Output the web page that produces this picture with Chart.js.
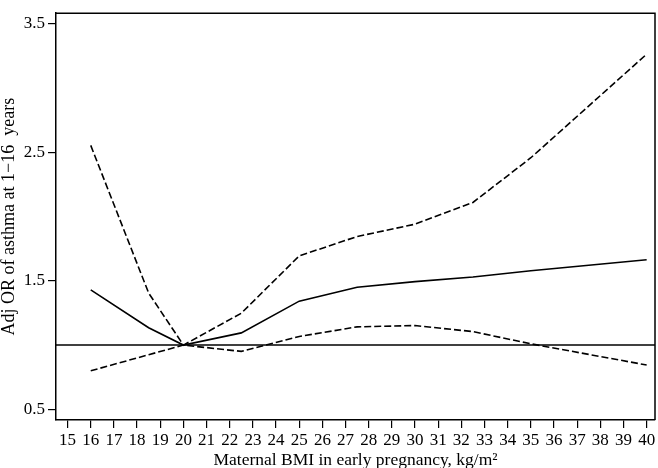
<!DOCTYPE html>
<html>
<head>
<meta charset="utf-8">
<script src="https://cdn.jsdelivr.net/npm/chart.js@4"></script>
<style>
  html, body { margin: 0; padding: 0; background: #fff; }
  #wrap { width: 658px; height: 468px; }
</style>
</head>
<body>
<div id="wrap"><canvas id="grafico" width="658" height="468"></canvas></div>
<script>
// dados
const bmi = [16, 18.5, 20, 22.5, 25, 27.5, 30, 32.5, 35, 40];
const orAjustado = [1.43, 1.135, 1.0, 1.095, 1.342, 1.45, 1.494, 1.53, 1.579, 1.664];
const icSuperior = [2.554, 1.405, 1.0, 1.248, 1.694, 1.845, 1.941, 2.11, 2.458, 3.264];
const icInferior = [0.80, 0.925, 1.0, 0.951, 1.067, 1.142, 1.152, 1.105, 1.01, 0.845];

// eixos
const xTicks = [15, 16, 17, 18, 19, 20, 21, 22, 23, 24, 25, 26, 27, 28, 29, 30, 31, 32, 33, 34, 35, 36, 37, 38, 39, 40];
const yTicks = [0.5, 1.5, 2.5, 3.5];
const xMin = 14.5, xMax = 40.36;
const yMin = 0.417, yMax = 3.583;

// linha de referência OR = 1
const refX = [xMin, xMax];
const refY = [1, 1];

const pares = (xs, ys) => xs.map((x, i) => ({ x: x, y: ys[i] }));

const FONTE = "'Liberation Serif', 'Times New Roman', serif";

// moldura (topo e direita)
const moldura = {
  id: "moldura",
  afterDraw(chart) {
    const { ctx, chartArea: a } = chart;
    ctx.save();
    ctx.strokeStyle = "#000";
    ctx.lineWidth = 1.5;
    ctx.beginPath();
    ctx.moveTo(a.left, a.top);
    ctx.lineTo(a.right, a.top);
    ctx.lineTo(a.right, a.bottom);
    ctx.stroke();
    ctx.restore();
  }
};

const linha = (label, data, dash, width) => ({
  label: label,
  data: data,
  borderColor: "#000",
  borderWidth: width,
  borderDash: dash,
  pointRadius: 0,
  tension: 0,
  fill: false
});

new Chart(document.getElementById("grafico"), {
  type: "line",
  data: {
    datasets: [
      linha("ref", pares(refX, refY), [], 1.5),
      linha("OR", pares(bmi, orAjustado), [], 1.6),
      linha("IC superior", pares(bmi, icSuperior), [7, 3], 1.6),
      linha("IC inferior", pares(bmi, icInferior), [7, 3], 1.6)
    ]
  },
  plugins: [moldura],
  options: {
    responsive: false,
    animation: false,
    layout: { padding: { top: 1, right: 3, left: 0, bottom: 0 } },
    plugins: {
      legend: { display: false },
      tooltip: { enabled: false }
    },
    scales: {
      x: {
        type: "linear",
        min: xMin,
        max: xMax,
        afterBuildTicks: s => { s.ticks = xTicks.map(v => ({ value: v })); },
        afterFit: s => { s.height = 48; },
        grid: { drawOnChartArea: false, drawTicks: true, tickLength: 8, color: "#000", lineWidth: 1.2 },
        border: { display: true, color: "#000", width: 1.5 },
        ticks: {
          color: "#000",
          padding: 2,
          maxRotation: 0,
          autoSkip: false,
          font: { family: FONTE, size: 17 }
        },
        title: {
          display: true,
          text: "Maternal BMI in early pregnancy, kg/m²",
          color: "#000",
          padding: { top: 0, bottom: -1 },
          font: { family: FONTE, size: 17.5, lineHeight: 1 }
        }
      },
      y: {
        type: "linear",
        min: yMin,
        max: yMax,
        afterBuildTicks: s => { s.ticks = yTicks.map(v => ({ value: v })); },
        afterFit: s => { s.width = 56; },
        grid: { drawOnChartArea: false, drawTicks: true, tickLength: 8, color: "#000", lineWidth: 1.2 },
        border: { display: true, color: "#000", width: 1.5 },
        ticks: {
          color: "#000",
          padding: 3,
          callback: v => v.toFixed(1),
          font: { family: FONTE, size: 17 }
        },
        title: {
          display: true,
          text: "Adj OR of asthma at 1\u221216  years",
          color: "#000",
          padding: { top: 0, bottom: 0 },
          font: { family: FONTE, size: 18, lineHeight: 1 }
        }
      }
    }
  }
});
</script>
</body>
</html>
